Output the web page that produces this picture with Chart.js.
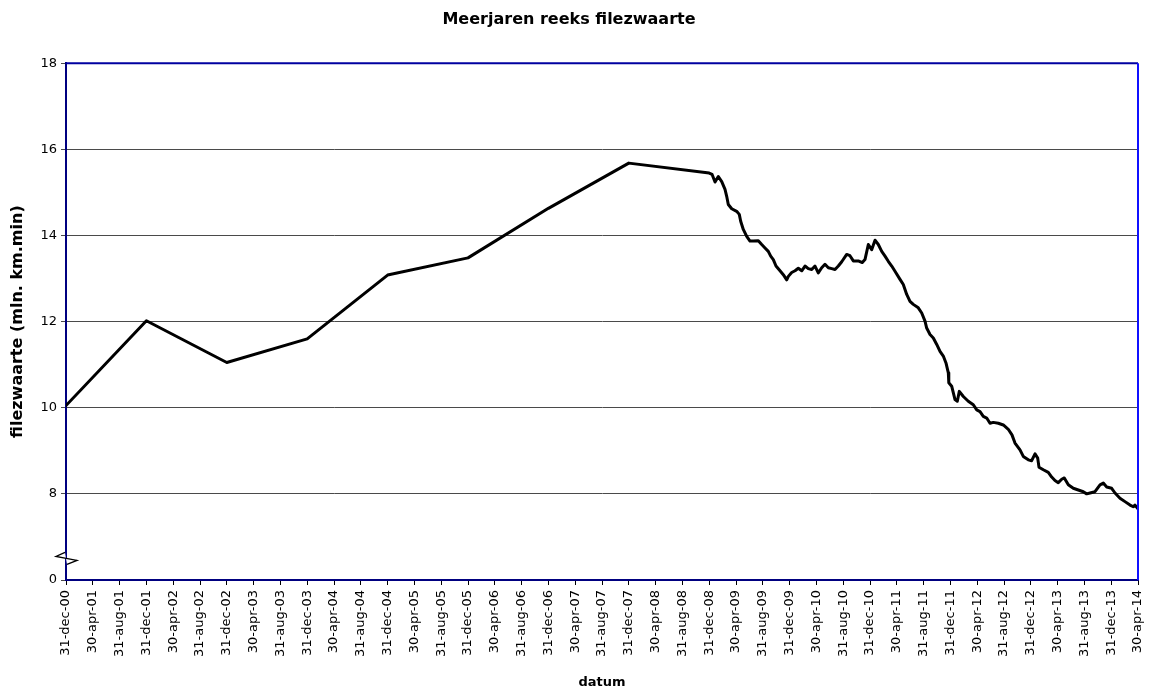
<!DOCTYPE html>
<html>
<head>
<meta charset="utf-8">
<script src="https://cdn.jsdelivr.net/npm/chart.js@4.4.1/dist/chart.umd.min.js"></script>
<style>
  html, body { margin: 0; padding: 0; background: #fff; }
  #wrap { width: 1155px; height: 690px; position: relative; }
</style>
</head>
<body>
<div id="wrap"><canvas id="c" width="1155" height="690"></canvas></div>
<script>
// ---- Data (x = months since 31-dec-00) ----
const tickLabels = [
  "31-dec-00","30-apr-01","31-aug-01","31-dec-01","30-apr-02","31-aug-02","31-dec-02",
  "30-apr-03","31-aug-03","31-dec-03","30-apr-04","31-aug-04","31-dec-04","30-apr-05",
  "31-aug-05","31-dec-05","30-apr-06","31-aug-06","31-dec-06","30-apr-07","31-aug-07",
  "31-dec-07","30-apr-08","31-aug-08","31-dec-08","30-apr-09","31-aug-09","31-dec-09",
  "30-apr-10","31-aug-10","31-dec-10","30-apr-11","31-aug-11","31-dec-11","30-apr-12",
  "31-aug-12","31-dec-12","30-apr-13","31-aug-13","31-dec-13","30-apr-14"
];

const yearlyMonths = [0, 12, 24, 36, 48, 60, 72, 84];
const yearlyValues = [10.05, 12.02, 11.05, 11.60, 13.08, 13.48, 14.63, 15.68];

const dailyMonths = [
  96.0, 96.42, 96.87, 97.36, 97.87, 98.36, 98.61, 98.85, 99.36, 100.1,
  100.49, 100.7, 101.09, 101.6, 102.09, 102.58, 103.33, 103.84, 104.33, 104.82,
  105.18, 105.57, 105.97, 106.57, 107.06, 107.57, 107.81, 108.31, 108.81, 109.3,
  109.81, 110.3, 110.79, 111.3, 111.79, 112.28, 112.79, 113.28, 113.78, 114.28,
  114.78, 115.27, 115.78, 116.52, 117.01, 117.51, 118.25, 118.85, 119.25, 119.75,
  120.25, 120.75, 121.24, 121.75, 122.24, 122.73, 123.24, 123.73, 124.48, 124.97,
  125.48, 125.97, 126.46, 127.21, 127.72, 128.21, 128.46, 128.96, 129.45, 129.96,
  130.45, 130.94, 131.34, 131.69, 131.76, 132.19, 132.69, 133.03, 133.33, 133.93,
  134.67, 135.42, 135.93, 136.42, 136.91, 137.42, 137.91, 138.4, 139.15, 139.9,
  140.64, 141.19, 141.64, 142.39, 142.88, 143.63, 144.13, 144.63, 145.03, 145.22,
  145.87, 146.61, 147.12, 147.61, 148.1, 148.61, 149.0, 149.6, 150.34, 151.09,
  151.84, 152.34, 152.84, 153.58, 154.33, 154.82, 155.33, 156.07, 156.57, 157.31,
  158.06, 158.81, 159.3, 159.55, 160.0
];
const dailyValues = [
  15.45, 15.42, 15.24, 15.37, 15.25, 15.07, 14.91, 14.72, 14.62, 14.56,
  14.49, 14.33, 14.14, 13.98, 13.87, 13.87, 13.88, 13.79, 13.71, 13.63,
  13.52, 13.44, 13.29, 13.18, 13.09, 12.97, 13.05, 13.14, 13.18, 13.24,
  13.18, 13.29, 13.23, 13.21, 13.29, 13.13, 13.25, 13.33, 13.25, 13.23,
  13.21, 13.29, 13.39, 13.56, 13.53, 13.41, 13.41, 13.37, 13.44, 13.79,
  13.67, 13.89, 13.79, 13.63, 13.52, 13.40, 13.29, 13.17, 12.98, 12.86,
  12.63, 12.47, 12.40, 12.32, 12.20, 12.01, 11.85, 11.70, 11.62, 11.47,
  11.31, 11.20, 11.04, 10.81, 10.58, 10.50, 10.19, 10.15, 10.38, 10.26,
  10.15, 10.07, 9.95, 9.91, 9.80, 9.76, 9.64, 9.66, 9.64, 9.60,
  9.50, 9.37, 9.18, 9.02, 8.87, 8.79, 8.77, 8.93, 8.83, 8.62,
  8.56, 8.50, 8.39, 8.31, 8.26, 8.34, 8.37, 8.21, 8.13, 8.09,
  8.05, 8.00, 8.02, 8.05, 8.21, 8.25, 8.16, 8.13, 8.02, 7.90,
  7.82, 7.74, 7.70, 7.74, 7.65
];

// y axis: bottom of the broken axis is labelled 0
const yMin = 6, yMax = 18, yStep = 2;
const yBottomLabel = "0";

// ---- Build points ----
const points = [];
yearlyMonths.forEach((m, i) => points.push({ x: m, y: yearlyValues[i] }));
dailyMonths.forEach((m, i) => points.push({ x: m, y: dailyValues[i] }));

const FONT = "'DejaVu Sans', Verdana, sans-serif";

const framePlugin = {
  id: 'frame',
  afterDraw(chart) {
    const { ctx, chartArea: a, scales } = chart;
    ctx.save();
    ctx.lineWidth = 2;
    ctx.strokeStyle = '#0000a0';
    ctx.beginPath();
    ctx.moveTo(a.left, a.top);
    ctx.lineTo(a.right, a.top);
    ctx.stroke();
    ctx.strokeStyle = '#1010ff';
    ctx.beginPath();
    ctx.moveTo(a.right, a.top);
    ctx.lineTo(a.right, a.bottom);
    ctx.stroke();
    // axis break symbol
    const yc = scales.y.getPixelForValue(6.5);
    const L = a.left;
    ctx.fillStyle = '#fff';
    ctx.beginPath();
    ctx.moveTo(L - 1, yc - 6);
    ctx.lineTo(L - 10, yc - 2);
    ctx.lineTo(L + 11, yc + 2);
    ctx.lineTo(L + 1, yc + 6);
    ctx.closePath();
    ctx.fill();
    ctx.strokeStyle = '#000';
    ctx.lineWidth = 1.3;
    ctx.beginPath();
    ctx.moveTo(L - 1, yc - 6);
    ctx.lineTo(L - 10, yc - 2);
    ctx.lineTo(L + 11, yc + 2);
    ctx.lineTo(L + 1, yc + 6);
    ctx.stroke();
    ctx.restore();
  }
};

new Chart(document.getElementById('c'), {
  type: 'line',
  data: {
    datasets: [{
      data: points,
      borderColor: '#000',
      borderWidth: 3,
      pointRadius: 0,
      tension: 0,
      fill: false,
      borderJoinStyle: 'round',
      borderCapStyle: 'round'
    }]
  },
  options: {
    responsive: false,
    animation: false,
    events: [],
    layout: { padding: { left: 0, right: 17, top: 0, bottom: 0 } },
    plugins: {
      legend: { display: false },
      tooltip: { enabled: false },
      title: {
        display: true,
        text: 'Meerjaren reeks filezwaarte',
        color: '#000',
        font: { family: FONT, size: 16, weight: 'bold' },
        padding: { top: 10, bottom: 34 }
      }
    },
    scales: {
      x: {
        type: 'linear',
        min: 0,
        max: 160,
        afterFit(s) { s.height = 110; s.paddingLeft = 0; s.paddingRight = 0; },
        afterBuildTicks(s) {
          s.ticks = tickLabels.map((_, i) => ({ value: i * 4 }));
        },
        ticks: {
          autoSkip: false,
          maxRotation: 90,
          minRotation: 90,
          color: '#000',
          padding: 5,
          font: { family: FONT, size: 13 },
          callback: (v) => tickLabels[Math.round(v / 4)]
        },
        grid: {
          drawOnChartArea: false,
          drawTicks: true,
          tickLength: 5,
          color: '#000'
        },
        border: { color: '#000080', width: 2 },
        title: {
          display: true,
          text: 'datum',
          color: '#000',
          font: { family: FONT, size: 13, weight: 'bold' },
          padding: { top: 0, bottom: 0 }
        }
      },
      y: {
        min: yMin,
        max: yMax,
        afterFit(s) { s.width = 66; },
        ticks: {
          stepSize: yStep,
          color: '#000',
          padding: 4,
          font: { family: FONT, size: 13 },
          callback: (v) => (v === yMin ? yBottomLabel : String(v))
        },
        grid: {
          color: '#4a4a4a',
          lineWidth: 1,
          tickLength: 5
        },
        border: { color: '#000080', width: 2 },
        title: {
          display: true,
          text: 'filezwaarte (mln. km.min)',
          color: '#000',
          font: { family: FONT, size: 16, weight: 'bold' },
          padding: { top: 8, bottom: 0 }
        }
      }
    }
  },
  plugins: [framePlugin]
});
</script>
</body>
</html>
